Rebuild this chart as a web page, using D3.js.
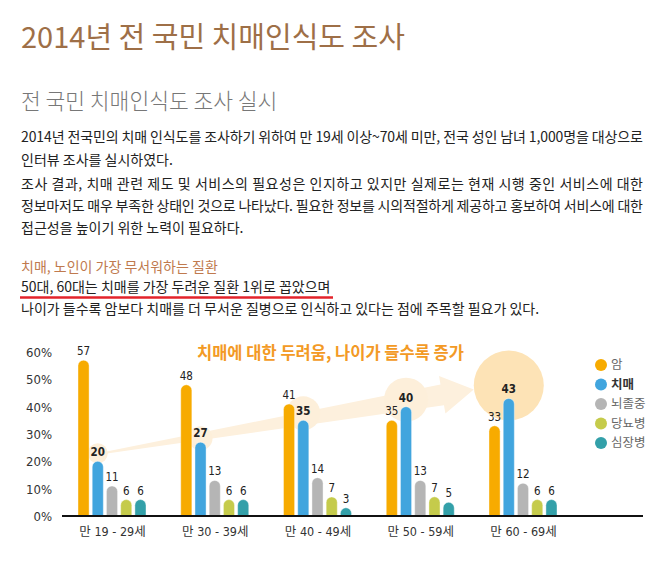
<!DOCTYPE html>
<html>
<head>
<meta charset="utf-8">
<script src="https://cdn.jsdelivr.net/npm/d3@7"></script>
<style>
  body { margin: 0; background: #fff; }
  svg { display: block; font-family: "Noto Sans CJK KR", sans-serif; }
  .num { font-family: "DejaVu Sans Condensed", "DejaVu Sans", sans-serif; }
</style>
</head>
<body>
<div id="chart"></div>
<script>
// data
const ageGroups = ['만 19 - 29세', '만 30 - 39세', '만 40 - 49세', '만 50 - 59세', '만 60 - 69세'];
const diseases = ['암', '치매', '뇌졸중', '당뇨병', '심장병'];
const cancer = [57, 48, 41, 35, 33];
const dementia = [20, 27, 35, 40, 43];
const stroke = [11, 13, 14, 13, 12];
const diabetes = [6, 6, 7, 7, 6];
const heart = [6, 6, 3, 5, 6];
const yTicks = [0, 10, 20, 30, 40, 50, 60];
const colors = ['#f7ab00', '#41a5de', '#b5b5b5', '#c5cb4b', '#33a0a9'];

const seriesValues = [cancer, dementia, stroke, diabetes, heart];

const W = 663, H = 561;
const svg = d3.select('#chart').append('svg').attr('width', W).attr('height', H);

// ---- text header
svg.append('text').attr('x', 21).attr('y', 48)
  .attr('font-size', 29).attr('fill', '#9e6f47').text('2014년 전 국민 치매인식도 조사');

svg.append('text').attr('x', 21).attr('y', 109)
  .attr('font-size', 21.5).attr('fill', '#777').attr('font-weight', 300).text('전 국민 치매인식도 조사 실시');

const body = [
  { t: '2014년 전국민의 치매 인식도를 조사하기 위하여 만 19세 이상~70세 미만, 전국 성인 남녀 1,000명을 대상으로', y: 142, just: true },
  { t: '인터뷰 조사를 실시하였다.', y: 165 },
  { t: '조사 결과, 치매 관련 제도 및 서비스의 필요성은 인지하고 있지만 실제로는 현재 시행 중인 서비스에 대한', y: 189, just: true },
  { t: '정보마저도 매우 부족한 상태인 것으로 나타났다. 필요한 정보를 시의적절하게 제공하고 홍보하여 서비스에 대한', y: 211, just: true },
  { t: '접근성을 높이기 위한 노력이 필요하다.', y: 233 }
];
body.forEach(l => {
  const t = svg.append('text').attr('x', 21).attr('y', l.y)
    .attr('font-size', 14).attr('fill', '#222').text(l.t);
  if (l.just) t.attr('textLength', 622).attr('lengthAdjust', 'spacing');
});

svg.append('text').attr('x', 21).attr('y', 272)
  .attr('font-size', 14).attr('fill', '#c07a4e').text('치매, 노인이 가장 무서워하는 질환');
svg.append('text').attr('x', 21).attr('y', 292)
  .attr('font-size', 14).attr('fill', '#222').text('50대, 60대는 치매를 가장 두려운 질환 1위로 꼽았으며');
svg.append('line').attr('x1', 20).attr('x2', 333).attr('y1', 297.5).attr('y2', 297.5)
  .attr('stroke', '#e3232b').attr('stroke-width', 2.5);
svg.append('text').attr('x', 21).attr('y', 314)
  .attr('font-size', 14).attr('fill', '#222').text('나이가 들수록 암보다 치매를 더 무서운 질병으로 인식하고 있다는 점에 주목할 필요가 있다.');

// ---- chart
const y = d3.scaleLinear().domain([0, 60]).range([516, 352]);
const x0 = d3.scalePoint().domain(ageGroups).range([112, 523]);
const x1 = d3.scaleBand().domain(diseases).range([-34, 34]).paddingInner(0.22);
const bw = x1.bandwidth();

const barX = (gi, si) => x0(ageGroups[gi]) + x1(diseases[si]);

// annotation: circles around dementia labels and arrow
const circleR = [10, 12, 17, 22, 35];
const circleDy = [-8, -4, -7, -7, -13];
const deco = svg.append('g');
const cx = gi => barX(gi, 1) + bw / 2;
const cy = gi => y(dementia[gi]) + circleDy[gi];

// arrow from first circle toward the last one
const S = [cx(0), cy(0)];
const E = [cx(4) - circleR[4], cy(4) + 4];
const dx = E[0] - S[0], dy = E[1] - S[1];
const L = Math.hypot(dx, dy);
const ux = dx / L, uy = dy / L, px = -uy, py = ux;
const pt = (a, b) => [S[0] + ux * a + px * b, S[1] + uy * a + py * b];
const headL = 32;
const arrow = [pt(0, 0), pt(L - headL, -10.5), pt(L - headL, -19), pt(L, 0),
  pt(L - headL, 19), pt(L - headL, 10.5), pt(0, 1.5)];
deco.append('path').attr('d', d3.line()(arrow) + 'Z').attr('fill', '#fdf0dd');

deco.selectAll('circle').data(dementia).join('circle')
  .attr('cx', (d, i) => cx(i)).attr('cy', (d, i) => cy(i)).attr('r', (d, i) => circleR[i])
  .attr('fill', (d, i) => i === 4 ? '#fde3b6' : '#fdefda');

// bars
const barPath = (x, v) => {
  const top = y(v), base = y(0), r = bw / 2;
  return `M${x},${base}L${x},${top + r}A${r},${r} 0 0 1 ${x + bw},${top + r}L${x + bw},${base}Z`;
};

const cells = [];
ageGroups.forEach((g, gi) => diseases.forEach((d, si) => cells.push({ gi, si, v: seriesValues[si][gi] })));

svg.append('g').selectAll('path').data(cells).join('path')
  .attr('d', c => barPath(barX(c.gi, c.si), c.v))
  .attr('fill', c => colors[c.si])
  .attr('stroke', '#fff').attr('stroke-opacity', 0.5).attr('stroke-width', 0.8);

svg.append('g').selectAll('text').data(cells).join('text')
  .attr('class', 'num')
  .attr('x', c => barX(c.gi, c.si) + bw / 2)
  .attr('y', c => y(c.v) - 5)
  .attr('text-anchor', 'middle')
  .attr('font-size', 11.5)
  .attr('font-weight', c => c.si === 1 ? 'bold' : 'normal')
  .attr('fill', '#222')
  .text(c => c.v);

// axes
const yAxis = svg.append('g').attr('transform', 'translate(52,0)')
  .call(d3.axisLeft(y).tickValues(yTicks).tickSize(0).tickPadding(0).tickFormat(d => d + '%'));
yAxis.select('.domain').remove();
yAxis.selectAll('text').attr('class', 'num').attr('font-size', 13).attr('fill', '#333')
  .attr('font-family', null).attr('dy', '0.35em');

svg.append('line').attr('x1', 62).attr('x2', 643).attr('y1', y(0)).attr('y2', y(0))
  .attr('stroke', '#111').attr('stroke-width', 2);

const xAxis = svg.append('g').attr('transform', `translate(0,${y(0)})`)
  .call(d3.axisBottom(x0).tickSize(0).tickPadding(11));
xAxis.select('.domain').remove();
xAxis.selectAll('text').attr('font-size', 12.5).attr('fill', '#333')
  .attr('font-family', '"DejaVu Sans Condensed", "Noto Sans CJK KR", sans-serif');

// chart headline
svg.append('text').attr('x', 197).attr('y', 359)
  .attr('font-size', 16.5).attr('font-weight', 'bold').attr('fill', '#f39a25')
  .text('치매에 대한 두려움, 나이가 들수록 증가');

// legend
const legend = svg.append('g').selectAll('g').data(diseases).join('g')
  .attr('transform', (d, i) => `translate(601,${365 + i * 19.5})`);
legend.append('circle').attr('r', 6).attr('fill', (d, i) => colors[i]);
legend.append('text').attr('x', 10).attr('dy', '0.35em')
  .attr('font-size', 12.5)
  .attr('font-weight', (d, i) => i === 1 ? 'bold' : 'normal')
  .attr('fill', (d, i) => i === 1 ? '#333' : '#666')
  .text(d => d);
</script>
</body>
</html>
